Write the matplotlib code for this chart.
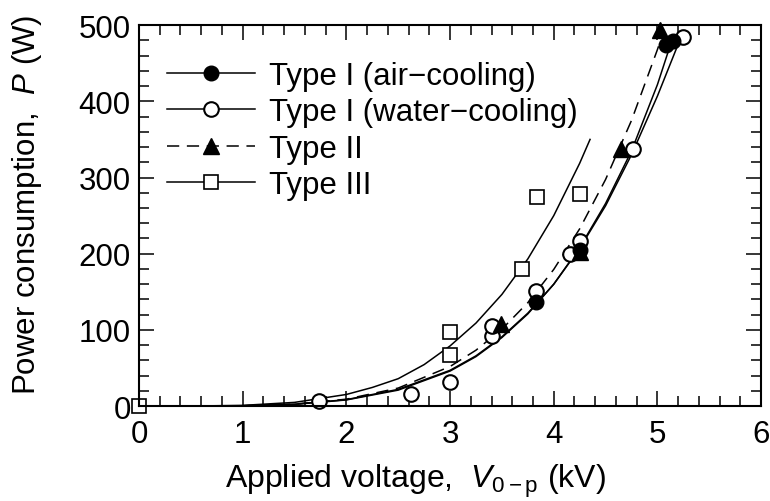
import matplotlib
matplotlib.use("Agg")
import matplotlib.pyplot as plt

plt.rcParams['font.family'] = ['Liberation Sans', 'DejaVu Sans']
plt.rcParams['mathtext.fontset'] = 'custom'
plt.rcParams['mathtext.rm'] = 'Liberation Sans'
plt.rcParams['mathtext.it'] = 'Liberation Sans:italic'

# measured points
air_v = [3.83, 4.25, 5.08, 5.15]
air_p = [136, 205, 474, 479]
water_v = [1.74, 2.62, 3.0, 3.40, 3.40, 3.83, 4.16, 4.25, 4.76, 5.25]
water_p = [7, 16, 31, 92, 105, 151, 200, 217, 338, 485]
t2_v = [3.49, 4.25, 4.65, 5.02]
t2_p = [108, 202, 338, 494]
t3_v = [0, 3.0, 3.0, 3.69, 3.84, 4.25]
t3_p = [0, 67, 97, 180, 274, 279]

# fitted curves
air_fit_v = [0, 0.5, 1, 1.5, 2, 2.5, 3, 3.25, 3.5, 3.75, 4, 4.25, 4.5, 4.75, 5.0, 5.12]
air_fit_p = [0, 0.02, 0.41, 2.3, 8.1, 21, 46, 65, 90, 121, 160, 208, 266, 335, 422, 472]
water_fit_v = [0, 0.5, 1, 1.5, 2, 2.5, 3, 3.25, 3.5, 3.75, 4, 4.25, 4.5, 4.75, 5.0, 5.25]
water_fit_p = [0, 0.03, 0.5, 2.5, 8.5, 22, 47, 66, 91, 122, 160, 207, 263, 330, 407, 492]
t2_fit_v = [0, 0.5, 1, 1.5, 2, 2.5, 3, 3.25, 3.5, 3.75, 4, 4.25, 4.5, 4.75, 5.0, 5.05]
t2_fit_p = [0, 0.02, 0.46, 2.6, 9.1, 23.7, 52, 73.4, 101, 135.8, 179.4, 232.7, 297.5, 375, 468, 488]
t3_fit_v = [0, 0.5, 1, 1.5, 2, 2.25, 2.5, 2.75, 3, 3.25, 3.5, 3.75, 4, 4.25, 4.35]
t3_fit_p = [0, 0.06, 0.98, 4.9, 15.3, 24.5, 36, 54.5, 79, 109, 146.6, 193.2, 250, 318.7, 350]

fs = 22.5

fig = plt.figure(figsize=(7.7, 5.02), dpi=100)
ax = fig.add_axes([0.1805, 0.189, 0.808, 0.759])

lw = 1.1
ax.plot(air_fit_v, air_fit_p, color='black', lw=lw)
ax.plot(water_fit_v, water_fit_p, color='black', lw=lw)
ax.plot(t2_fit_v, t2_fit_p, color='black', lw=lw, dashes=(8, 5))
ax.plot(t3_fit_v, t3_fit_p, color='black', lw=lw)

ax.plot(water_v, water_p, 'o', ms=10.5, mfc='white', mec='black', mew=1.5, clip_on=False)
ax.plot(air_v, air_p, 'o', ms=10.5, mfc='black', mec='black', clip_on=False)
ax.plot(t2_v, t2_p, '^', ms=12, mfc='black', mec='black', clip_on=False)
ax.plot(t3_v, t3_p, 's', ms=10.5, mfc='white', mec='black', mew=1.2, clip_on=False)

# legend handles
h1, = ax.plot([], [], '-o', color='black', lw=lw, ms=10.5, mfc='black')
h2, = ax.plot([], [], '-o', color='black', lw=lw, ms=10.5, mfc='white', mew=1.5)
h3, = ax.plot([], [], '^', ls='--', dashes=(8, 5), color='black', lw=lw, ms=12)
h4, = ax.plot([], [], '-s', color='black', lw=lw, ms=10.5, mfc='white', mew=1.2)
ax.legend([h1, h2, h3, h4],
          ['Type I (air\u2212cooling)', 'Type I (water\u2212cooling)', 'Type II', 'Type III'],
          loc='upper left', bbox_to_anchor=(0.01, 0.963), frameon=False, fontsize=fs,
          handlelength=2.8, handletextpad=0.45, labelspacing=0.2, borderaxespad=0.3)

ax.set_xlim(0, 6)
ax.set_ylim(0, 500)
ax.set_xticks(range(0, 7))
ax.set_yticks(range(0, 501, 100))
ax.set_xticks([i * 0.2 for i in range(31)], minor=True)
ax.set_yticks(range(0, 501, 20), minor=True)
ax.tick_params(which='both', direction='in', top=True, right=True, width=1.1,
               labelsize=fs)
ax.tick_params(which='major', length=10.5)
ax.tick_params(axis='x', which='major', pad=9)
ax.tick_params(axis='y', which='major', pad=6)
ax.tick_params(which='minor', length=7)
for s in ax.spines.values():
    s.set_linewidth(1.5)

ax.set_xlabel(r'Applied voltage,  $V_{\mathrm{0-p}}$ (kV)', fontsize=23)
ax.xaxis.set_label_coords(0.445, -0.145, transform=ax.transAxes)
ax.xaxis.label.set_va('top')
ax.set_ylabel(r'Power consumption,  $P$ (W)', fontsize=fs)
ax.yaxis.set_label_coords(-0.152, 0.53, transform=ax.transAxes)

fig.savefig('out.png', dpi=100)
